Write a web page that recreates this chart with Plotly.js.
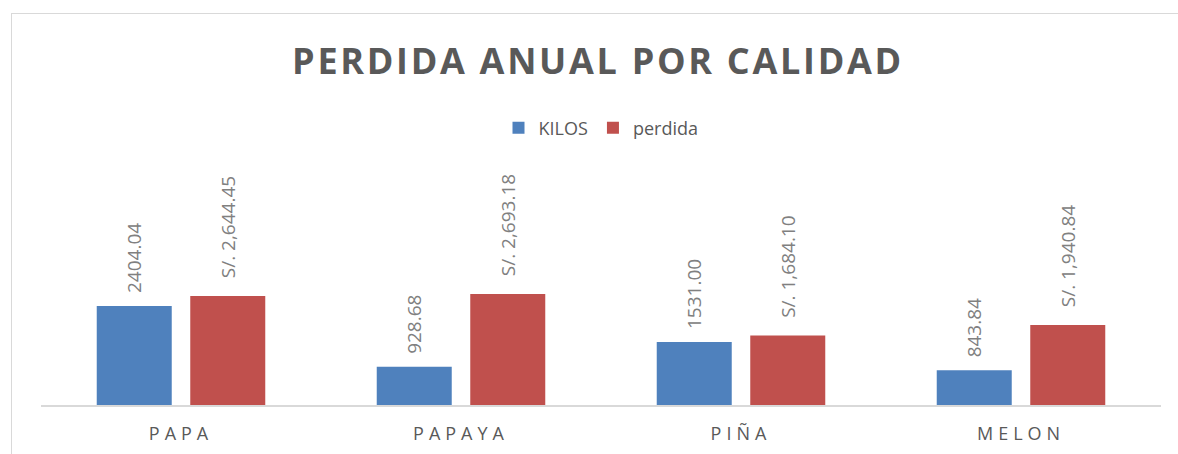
<!DOCTYPE html>
<html>
<head>
<meta charset="utf-8">
<script src="https://cdn.plot.ly/plotly-3.0.1.min.js"></script>
<style>
html,body{margin:0;padding:0;background:#fff;}
#wrap{position:relative;width:1178px;height:454px;overflow:hidden;}
#chart{position:absolute;left:0;top:0;width:1178px;height:454px;}
#frame{position:absolute;left:11px;top:13px;width:1200px;height:500px;border:1.5px solid #d9d9d9;pointer-events:none;}
</style>
</head>
<body>
<div id="wrap"><div id="chart"></div><div id="frame"></div></div>
<script>
var categories = ["PAPA", "PAPAYA", "PIÑA", "MELON"];
var kilos = [2404.04, 928.68, 1531.00, 843.84];
var perdida = [2644.45, 2693.18, 1684.10, 1940.84];
var seriesNames = ["KILOS", "perdida"];
var titleText = "PERDIDA ANUAL POR CALIDAD";

var NB = "\u00a0";
var labelFont = {family: "Open Sans", size: 19, color: "#808080"};

var traces = [
  {
    type: "bar", name: seriesNames[0], x: categories, y: kilos,
    marker: {color: "#4f81bd"},
    texttemplate: NB + NB + "%{y:.2f}",
    textposition: "outside", textangle: -90, constraintext: "none",
    cliponaxis: false, textfont: labelFont, hoverinfo: "x+y"
  },
  {
    type: "bar", name: seriesNames[1], x: categories, y: perdida,
    marker: {color: "#c0504d"},
    texttemplate: NB + NB + NB + "S/. %{y:,.2f}",
    textposition: "outside", textangle: -90, constraintext: "none",
    cliponaxis: false, textfont: labelFont, hoverinfo: "x+y"
  }
];

var layout = {
  width: 1178, height: 454,
  paper_bgcolor: "rgba(0,0,0,0)", plot_bgcolor: "rgba(0,0,0,0)",
  margin: {l: 41, r: 17, t: 150, b: 49},
  barmode: "group", bargap: 0.332, bargroupgap: 0.198,
  title: {
    text: "<b>" + titleText + "</b>",
    font: {family: "Open Sans", size: 36, color: "#595959"},
    x: 598/1178, xanchor: "center", xref: "container",
    y: 1 - 61/454, yanchor: "middle", yref: "container"
  },
  showlegend: true,
  legend: {
    orientation: "h", x: 0.5, xanchor: "center", xref: "paper",
    y: 1 - 128/454, yanchor: "middle", yref: "container",
    font: {family: "Open Sans", size: 18, color: "#595959"},
    bgcolor: "rgba(0,0,0,0)"
  },
  xaxis: {
    type: "category", showline: true, linecolor: "#d9d9d9", linewidth: 1.5,
    showgrid: false, zeroline: false, ticks: "",
    tickfont: {family: "Open Sans", size: 18, color: "#595959"},
    ticklabelstandoff: 12
  },
  yaxis: {
    range: [0, 6189], visible: false, showgrid: false, zeroline: false
  }
};

Plotly.newPlot("chart", traces, layout, {displayModeBar: false, staticPlot: true}).then(function(gd){
  var t = gd.querySelectorAll(".gtitle");
  t.forEach(function(el){ el.style.letterSpacing = "2.7px"; });
  var xt = gd.querySelectorAll(".xtick text");
  xt.forEach(function(el){ el.style.letterSpacing = "5px"; });
});
</script>
</body>
</html>
